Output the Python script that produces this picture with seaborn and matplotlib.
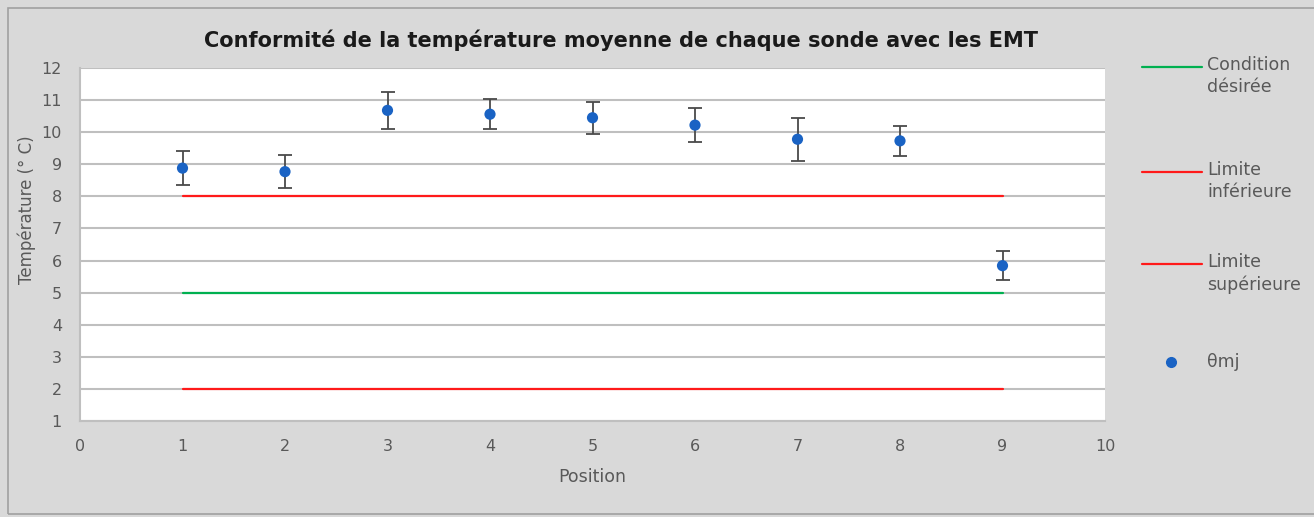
import matplotlib
matplotlib.use("Agg")
import matplotlib.pyplot as plt
import seaborn as sns
import pandas as pd
from matplotlib.lines import Line2D
from matplotlib.patches import Rectangle

# values
positions = [1, 2, 3, 4, 5, 6, 7, 8, 9]
mean_temp = [8.88, 8.77, 10.68, 10.56, 10.45, 10.22, 9.78, 9.73, 5.84]
temp_err = [0.52, 0.52, 0.57, 0.46, 0.50, 0.52, 0.67, 0.47, 0.45]

line_x = [1, 9]
cond_desiree = 5
limite_inf = 8
limite_sup = 2

title = "Conformité de la température moyenne de chaque sonde avec les EMT"
legend_labels = ["Condition\ndésirée", "Limite\ninférieure", "Limite\nsupérieure", "θmj"]

BG = "#d9d9d9"
GRID = "#bfbfbf"
TXT = "#595959"
BLUE = "#1a63c4"
RED = "#ff1a1a"
GREEN = "#00b050"


def main():
    sns.set_theme(style="white")
    plt.rcParams["font.family"] = ["DejaVu Sans"]

    fig = plt.figure(figsize=(13.14, 5.17), dpi=100, facecolor=BG)
    fig.add_artist(Rectangle((8 / 1314, 3 / 517), 1.2, 1 - 11 / 517,
                             transform=fig.transFigure, facecolor="none",
                             edgecolor="#a0a0a0", linewidth=1.2))
    ax = fig.add_axes([80 / 1314, 1 - 421 / 517, 1025 / 1314, 353 / 517])
    ax.set_facecolor("white")

    lines = pd.DataFrame({
        "x": line_x * 3,
        "y": [cond_desiree] * 2 + [limite_inf] * 2 + [limite_sup] * 2,
        "serie": ["cond"] * 2 + ["inf"] * 2 + ["sup"] * 2,
    })
    sns.lineplot(data=lines, x="x", y="y", hue="serie",
                 palette={"cond": GREEN, "inf": RED, "sup": RED},
                 linewidth=1.6, legend=False, ax=ax, zorder=3)

    ax.errorbar(positions, mean_temp, yerr=temp_err, fmt="none",
                ecolor="#4a4a4a", elinewidth=1.3, capsize=5, capthick=1.3,
                zorder=4)
    pts = pd.DataFrame({"pos": positions, "temp": mean_temp})
    sns.scatterplot(data=pts, x="pos", y="temp", color=BLUE, s=65,
                    edgecolor="none", ax=ax, zorder=5)

    ax.set_xlim(0, 10)
    ax.set_ylim(1, 12)
    ax.set_xticks(range(0, 11))
    ax.set_yticks(range(1, 13))
    ax.grid(axis="y", color=GRID, linewidth=1.5)
    ax.set_axisbelow(True)
    for side in ["top", "right"]:
        ax.spines[side].set_visible(False)
    for side in ["left", "bottom"]:
        ax.spines[side].set_color(GRID)
        ax.spines[side].set_linewidth(1.5)
    ax.tick_params(axis="both", colors=GRID, length=5, width=1.2,
                   labelcolor=TXT, labelsize=11.5, direction="out")
    ax.tick_params(axis="y", pad=8)
    ax.tick_params(axis="x", pad=8)

    ax.set_xlabel("Position", fontsize=12.5, color=TXT, labelpad=10)
    ax.set_ylabel("Température (° C)", fontsize=12, color=TXT)
    ax.yaxis.set_label_coords(-0.043, 0.6)

    fig.text(621 / 1314, 1 - 40 / 517, title, ha="center", va="center",
             fontsize=15, fontweight="bold", color="#1a1a1a")

    # legend on the right
    colors = [GREEN, RED, RED]
    ys = [67, 172, 264]
    for lab, c, yy in zip(legend_labels[:3], colors, ys):
        yf = 1 - yy / 517
        fig.add_artist(Line2D([1142 / 1314, 1202 / 1314], [yf, yf],
                              color=c, linewidth=1.6,
                              transform=fig.transFigure))
        fig.text(1207 / 1314, yf + 11 / 517, lab, ha="left", va="top",
                 fontsize=12.5, color=TXT, linespacing=1.3)
    yf = 1 - 362 / 517
    fig.add_artist(Line2D([1171 / 1314], [yf], marker="o", markersize=7,
                          color=BLUE, linestyle="none",
                          transform=fig.transFigure))
    fig.text(1207 / 1314, yf, legend_labels[3], ha="left", va="center",
             fontsize=12.5, color=TXT)

    fig.savefig("out.png", dpi=100, facecolor=BG)


if __name__ == "__main__":
    main()
